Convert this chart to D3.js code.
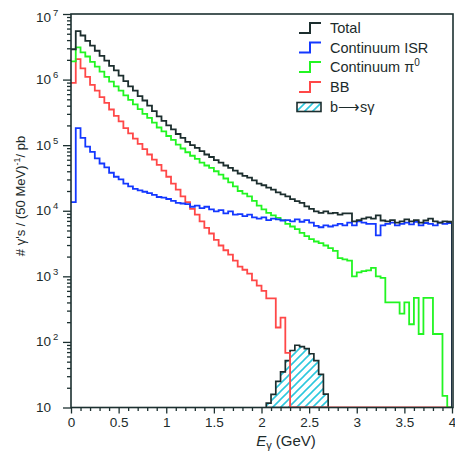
<!DOCTYPE html>
<html><head><meta charset="utf-8">
<script src="https://cdn.jsdelivr.net/npm/d3@7"></script>
<style>
body{margin:0;background:#fff}
svg{display:block}
text{font-family:"Liberation Sans",Arial,Helvetica,sans-serif;fill:#1c2b2b}
</style></head>
<body><svg id="c" width="455" height="452"></svg>
<script>
// ---- data: 80 bins of 50 MeV from 0 to 4 GeV ----
const binWidth = 0.05;
const binLow = d3.range(80).map(i => +(i * binWidth).toFixed(2));

const total = [2.9e6,5.5e6,4.7e6,3.9e6,3.3e6,2.75e6,2.3e6,1.95e6,1.62e6,1.38e6,
  1.15e6,9.5e5,7.9e5,6.8e5,5.6e5,4.8e5,4.0e5,3.3e5,2.75e5,2.35e5,
  2.0e5,1.74e5,1.48e5,1.29e5,1.12e5,1.0e5,9.1e4,8.1e4,7.2e4,6.6e4,
  5.9e4,5.4e4,4.9e4,4.5e4,4.1e4,3.7e4,3.4e4,3.2e4,2.9e4,2.6e4,
  2.45e4,2.25e4,2.1e4,1.9e4,1.78e4,1.66e4,1.5e4,1.4e4,1.32e4,1.17e4,
  1.07e4,9.8e3,9.3e3,9.8e3,9.1e3,9.3e3,8.7e3,9.1e3,9.1e3,6.9e3,
  7.2e3,7.6e3,7.9e3,7.6e3,8.5e3,7.1e3,6.9e3,7.2e3,6.6e3,6.9e3,
  7.4e3,6.9e3,7.2e3,6.6e3,7.1e3,7.6e3,6.9e3,6.6e3,6.9e3,6.8e3];

const continuumISR = [1.35e4,1.82e5,1.29e5,9.5e4,7.9e4,6.3e4,5.25e4,4.6e4,3.8e4,3.3e4,
  3.0e4,2.6e4,2.35e4,2.15e4,2.05e4,1.95e4,1.86e4,1.74e4,1.62e4,1.58e4,
  1.51e4,1.41e4,1.32e4,1.29e4,1.26e4,1.15e4,1.2e4,1.1e4,1.15e4,1.05e4,
  9.8e3,1.02e4,9.1e3,9.8e3,8.7e3,8.9e3,8.3e3,8.7e3,7.9e3,7.6e3,
  7.9e3,7.2e3,7.6e3,7.4e3,7.1e3,7.2e3,6.9e3,7.4e3,6.8e3,7.2e3,
  6.6e3,5.9e3,5.6e3,6.0e3,5.75e3,6.0e3,6.3e3,6.0e3,6.6e3,6.0e3,
  6.9e3,6.6e3,6.3e3,6.3e3,4.2e3,6.0e3,6.3e3,6.6e3,6.0e3,6.3e3,
  6.6e3,6.2e3,6.8e3,6.0e3,6.5e3,6.3e3,6.0e3,6.6e3,6.3e3,6.5e3];

const continuumPi0 = [1.9e6,3.1e6,2.6e6,2.25e6,1.86e6,1.58e6,1.32e6,1.1e6,9.3e5,7.9e5,
  6.8e5,5.75e5,4.9e5,4.2e5,3.55e5,3.0e5,2.6e5,2.2e5,1.86e5,1.62e5,
  1.38e5,1.2e5,1.02e5,8.9e4,7.8e4,6.9e4,6.2e4,5.4e4,4.9e4,4.5e4,
  4.0e4,3.55e4,3.1e4,2.7e4,2.35e4,2.0e4,1.82e4,1.66e4,1.41e4,1.2e4,
  1.05e4,9.3e3,8.5e3,7.8e3,7.2e3,6.3e3,5.75e3,5.25e3,4.6e3,4.1e3,
  3.7e3,3.4e3,3.2e3,2.95e3,2.7e3,2.45e3,1.9e3,1.82e3,1.74e3,1.0e3,
  1.15e3,1.2e3,1.23e3,1.35e3,1.0e3,950,400,400,400,270,
  400,186,470,132,470,470,132,132,15,0];

const bb = [8.9e5,2.05e6,1.48e6,1.1e6,8.3e5,6.8e5,5.4e5,4.4e5,3.5e5,2.8e5,
  2.3e5,1.82e5,1.51e5,1.26e5,1.05e5,8.7e4,7.2e4,6.0e4,5.0e4,4.1e4,
  3.3e4,2.6e4,2.1e4,1.66e4,1.35e4,1.07e4,8.7e3,6.9e3,5.5e3,4.5e3,
  3.6e3,2.95e3,2.5e3,2.15e3,1.74e3,1.41e3,1.26e3,1.1e3,870,720,
  600,460,460,166,234,68,0,0,0,0,
  0,0,0,0,0,0,0,0,0,0,
  0,0,0,0,0,0,0,0,0,0,
  0,0,0,0,0,0,0,0,0,0];

const bsg = [0,0,0,0,0,0,0,0,0,0,
  0,0,0,0,0,0,0,0,0,0,
  0,0,0,0,0,0,0,0,0,0,
  0,0,0,0,0,0,0,0,0,0,
  0,11.7,15.8,25,35,52,74,89,85,79,
  66,52,32,16,0,0,0,0,0,0,
  0,0,0,0,0,0,0,0,0,0,
  0,0,0,0,0,0,0,0,0,0];

const xMajorTicks = [0,0.5,1,1.5,2,2.5,3,3.5,4];
const xTickLabels = ["0","0.5","1","1.5","2","2.5","3","3.5","4"];
const yDecades = [10,1e2,1e3,1e4,1e5,1e6,1e7];
const yDecadeExp = ["","2","3","4","5","6","7"];
const legendLabels = ["Total","Continuum ISR","Continuum π","BB","b⟶sγ"];

// ---- drawing ----
const svg = d3.select("#c");
const x = d3.scaleLinear().domain([0,4]).range([71,452]);
const y = d3.scaleLog().domain([10,1e7]).range([407.5,14]);
const yBase = y(10);
const yc = v => y(Math.max(v,10));
const frameCol = "#1c3030";
const colors = {total:"#1c2e2e", isr:"#1438ff", pi0:"#22f522", bb:"#ff4848", hatch:"#2ec8de"};

// hatch pattern
const defs = svg.append("defs");
const pat = defs.append("pattern").attr("id","hatch").attr("patternUnits","userSpaceOnUse")
  .attr("width",8).attr("height",8);
pat.append("path").attr("d","M-2,2 L2,-2 M0,8 L8,0 M6,10 L10,6")
  .attr("stroke",colors.hatch).attr("stroke-width",1.6);
defs.append("clipPath").attr("id","plotclip").append("rect")
  .attr("x",x(0)).attr("y",y(1e7)).attr("width",x(4)-x(0)).attr("height",yBase-y(1e7));

function stepPath(vals){
  let p = `M${x(binLow[0])},${yc(vals[0])}`;
  for (let i=0;i<vals.length;i++){
    p += `H${x(binLow[i]+binWidth)}`;
    if (i<vals.length-1) p += `V${yc(vals[i+1])}`;
  }
  return p + `V${yBase}`;
}

const g = svg.append("g").attr("clip-path","url(#plotclip)");

// b -> s gamma filled histogram
const nz = bsg.map((v,i)=>v>0?i:-1).filter(i=>i>=0);
const i0 = nz[0], i1 = nz[nz.length-1];
let bp = `M${x(binLow[i0])},${yBase}`;
for (let i=i0;i<=i1;i++){ bp += `V${yc(bsg[i])}H${x(binLow[i]+binWidth)}`; }
bp += `V${yBase}Z`;
g.append("path").attr("d",bp).attr("fill","url(#hatch)").attr("stroke",colors.total).attr("stroke-width",1.7);

const series = [[bb,colors.bb],[continuumPi0,colors.pi0],[continuumISR,colors.isr],[total,colors.total]];
series.forEach(([vals,col])=>{
  g.append("path").attr("d",stepPath(vals)).attr("fill","none")
   .attr("stroke",col).attr("stroke-width",1.8).attr("stroke-linejoin","miter");
});

// frame
svg.append("rect").attr("x",x(0)).attr("y",y(1e7)).attr("width",x(4)-x(0)+1).attr("height",yBase-y(1e7))
  .attr("fill","none").attr("stroke",frameCol).attr("stroke-width",1.6);

// x axis
const xMinor = d3.range(41).map(i=>+(i*0.1).toFixed(1)).filter(v=>!xMajorTicks.includes(v));
const xa = svg.append("g").attr("transform",`translate(0,${yBase})`);
xa.append("g").call(d3.axisBottom(x).tickValues(xMinor).tickSize(3.5).tickFormat(""));
xa.append("g").call(d3.axisBottom(x).tickValues(xMajorTicks).tickSize(6)
  .tickFormat((d,i)=>xTickLabels[i]));
xa.selectAll(".domain").remove();
xa.selectAll("line").attr("stroke",frameCol).attr("stroke-width",1.3);
xa.selectAll("text").attr("font-size",13.5).attr("y",10)
  .style("font-family","'Liberation Sans',Arial,sans-serif").attr("fill","#1c2b2b");

// y axis
const yMinor = [];
yDecades.slice(0,-1).forEach(d=>{ for(let k=2;k<=9;k++) yMinor.push(d*k); });
const ya = svg.append("g").attr("transform",`translate(${x(0)},0)`);
ya.append("g").call(d3.axisLeft(y).tickValues(yMinor).tickSize(4).tickFormat(""));
ya.append("g").call(d3.axisLeft(y).tickValues(yDecades).tickSize(8).tickFormat(""));
ya.selectAll(".domain").remove();
ya.selectAll("line").attr("stroke",frameCol).attr("stroke-width",1.3);

yDecades.forEach((d,i)=>{
  const t = svg.append("text").attr("x",36).attr("y",y(d)+ (i===6?8:4.5)).attr("font-size",13.5);
  t.append("tspan").text("10");
  if (yDecadeExp[i]) t.append("tspan").attr("font-size",9.5).attr("dx",2).attr("dy",-6).text(yDecadeExp[i]);
});

// axis titles
const xt = svg.append("text").attr("x",286).attr("y",446).attr("font-size",15).attr("text-anchor","middle");
xt.append("tspan").attr("font-style","italic").text("E");
xt.append("tspan").attr("font-size",11).attr("dy",3).text("γ");
xt.append("tspan").attr("dy",-3).text(" (GeV)");

const yt = svg.append("text").attr("transform","translate(25,196) rotate(-90)")
  .attr("text-anchor","middle").attr("font-size",13);
yt.append("tspan").text("# γ's / (50 MeV)");
yt.append("tspan").attr("font-size",9).attr("dy",-5).text("-1");
yt.append("tspan").attr("dy",5).text("/ pb");

// legend
const legendColors = [colors.total,colors.isr,colors.pi0,colors.bb];
const rowY = [28,47.5,67,87,106.5];
legendLabels.forEach((lab,i)=>{
  const cy = rowY[i];
  if (i<4){
    svg.append("path").attr("d",`M299,${cy+5}H310V${cy-5}H321`).attr("fill","none")
      .attr("stroke",legendColors[i]).attr("stroke-width",2);
  } else {
    svg.append("rect").attr("x",297).attr("y",cy-4).attr("width",24).attr("height",9)
      .attr("fill","url(#hatch)").attr("stroke",colors.total).attr("stroke-width",1.6);
  }
  const t = svg.append("text").attr("x",330).attr("y",cy+5).attr("font-size",14.5).text(lab);
  if (i===2) t.append("tspan").attr("font-size",10).attr("dy",-6).text("0");
});
</script></body></html>
